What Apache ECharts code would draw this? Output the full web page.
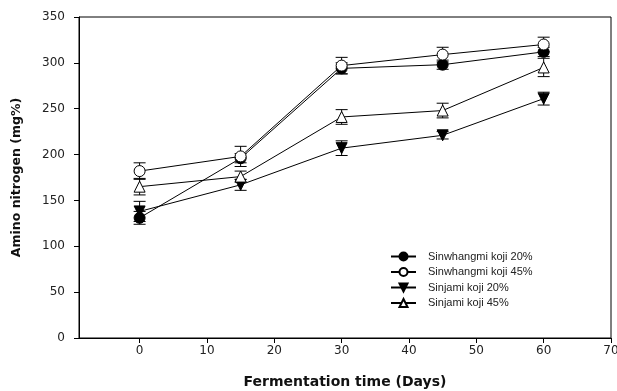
<!DOCTYPE html>
<html>
<head>
<meta charset="utf-8">
<script src="https://cdn.jsdelivr.net/npm/echarts@6/dist/echarts.min.js"></script>
<style>
  html, body { margin: 0; padding: 0; background: #fff; }
  #show_picture { width: 617px; height: 391px; }
</style>
</head>
<body>
<div id="show_picture"></div>
<script>
// fermentation days
const days = [0, 15, 30, 45, 60];

// amino nitrogen (mg%) and error (+/-)
const sw20 = [131, 196, 294, 298, 312];
const sw20Err = [7, 5, 6, 5, 5];
const sw45 = [182, 198, 297, 309, 320];
const sw45Err = [9, 11, 9, 8, 8];
const sj20 = [138, 167, 207, 221, 261];
const sj20Err = [11, 6, 8, 4, 7];
const sj45 = [165, 176, 241, 248, 295];
const sj45Err = [9, 6, 8, 8, 10];

const xTicks = [0, 10, 20, 30, 40, 50, 60, 70];

const names = ['Sinwhangmi koji 20%', 'Sinwhangmi koji 45%', 'Sinjami koji 20%', 'Sinjami koji 45%'];

function pairs(ys) {
    return days.map((d, i) => [d, ys[i]]);
}

function errData(ys, es) {
    return days.map((d, i) => [d, ys[i] - es[i], ys[i] + es[i]]);
}

function renderErr(params, api) {
    let x = api.value(0);
    let lo = api.coord([x, api.value(1)]);
    let hi = api.coord([x, api.value(2)]);
    let w = 6;
    let st = { stroke: '#000', lineWidth: 1 };
    return {
        type: 'group',
        children: [
            { type: 'line', shape: { x1: lo[0], y1: lo[1], x2: hi[0], y2: hi[1] }, style: st },
            { type: 'line', shape: { x1: lo[0] - w, y1: lo[1], x2: lo[0] + w, y2: lo[1] }, style: st },
            { type: 'line', shape: { x1: hi[0] - w, y1: hi[1], x2: hi[0] + w, y2: hi[1] }, style: st }
        ]
    };
}

function lineSeries(name, ys, symbol, filled, rotate) {
    return {
        name: name,
        type: 'line',
        data: pairs(ys),
        symbol: symbol,
        symbolSize: 11,
        symbolRotate: rotate || 0,
        z: 3,
        lineStyle: { color: '#000', width: 1 },
        itemStyle: filled
            ? { color: '#000', borderColor: '#000', borderWidth: 1 }
            : { color: '#fff', borderColor: '#000', borderWidth: 1 }
    };
}

function errSeries(ys, es) {
    return {
        type: 'custom',
        data: errData(ys, es),
        renderItem: renderErr,
        z: 2,
        silent: true
    };
}

let myChart = echarts.init(document.getElementById('show_picture'));

let option = {
    animation: false,
    backgroundColor: '#fff',
    grid: {
        left: 79, right: 6, top: 17, bottom: 53,
        outerBoundsMode: 'none',
        containLabel: false,
        show: true, borderColor: '#000', borderWidth: 1
    },
    legend: {
        data: names,
        orient: 'vertical',
        left: 385,
        top: 246,
        itemWidth: 25,
        itemHeight: 10,
        itemGap: 4.5,
        textStyle: {
            fontFamily: 'Liberation Sans',
            fontSize: 11,
            lineHeight: 10,
            color: '#222',
            padding: [0, 0, 0, 7]
        }
    },
    xAxis: {
        type: 'value',
        min: -9,
        max: 70,
        name: 'Fermentation time (Days)',
        nameLocation: 'middle',
        nameGap: 37,
        nameTextStyle: {
            fontFamily: 'DejaVu Sans',
            fontWeight: 'bold',
            fontSize: 14,
            color: '#111'
        },
        axisLine: { onZero: false, lineStyle: { color: '#000', width: 1 } },
        axisTick: { show: true, length: 5, customValues: xTicks, lineStyle: { color: '#000' } },
        axisLabel: {
            customValues: xTicks,
            margin: 7,
            fontFamily: 'DejaVu Sans',
            fontSize: 12,
            color: '#222'
        },
        splitLine: { show: false }
    },
    yAxis: {
        type: 'value',
        min: 0,
        max: 350,
        interval: 50,
        name: 'Amino nitrogen (mg%)',
        nameLocation: 'middle',
        nameGap: 56,
        nameTextStyle: {
            fontFamily: 'DejaVu Sans',
            fontWeight: 'bold',
            fontSize: 12.5,
            color: '#111'
        },
        axisLine: { show: true, onZero: false, lineStyle: { color: '#000', width: 1 } },
        axisTick: { show: true, length: 5, lineStyle: { color: '#000' } },
        axisLabel: {
            margin: 14,
            fontFamily: 'DejaVu Sans',
            fontSize: 12,
            color: '#222'
        },
        splitLine: { show: false }
    },
    series: [
        errSeries(sw20, sw20Err),
        errSeries(sw45, sw45Err),
        errSeries(sj20, sj20Err),
        errSeries(sj45, sj45Err),
        lineSeries(names[0], sw20, 'circle', true),
        lineSeries(names[1], sw45, 'circle', false),
        lineSeries(names[2], sj20, 'triangle', true, 180),
        lineSeries(names[3], sj45, 'triangle', false)
    ]
};

option && myChart.setOption(option);
</script>
</body>
</html>
